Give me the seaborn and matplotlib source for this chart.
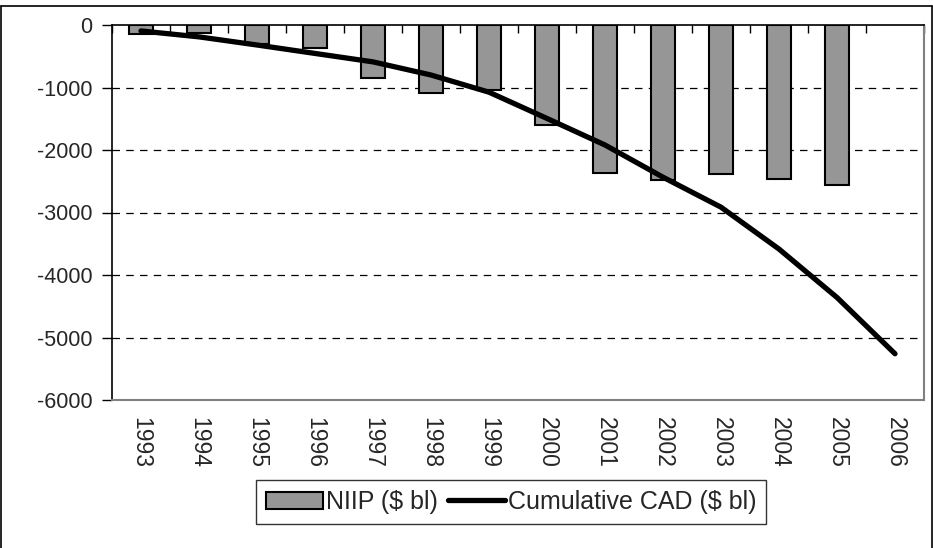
import numpy as np
import pandas as pd
import matplotlib
matplotlib.use("Agg")
import matplotlib.pyplot as plt
import seaborn as sns
from matplotlib.patches import Patch
from matplotlib.lines import Line2D

years = ["1993", "1994", "1995", "1996", "1997", "1998", "1999",
         "2000", "2001", "2002", "2003", "2004", "2005", "2006"]
niip = [-150, -135, -300, -375, -845, -1090, -1045,
        -1605, -2365, -2480, -2390, -2470, -2565, np.nan]
cum_cad = [-95, -190, -320, -455, -590, -800, -1075,
           -1495, -1920, -2435, -2915, -3585, -4360, -5260]
yticks = [0, -1000, -2000, -3000, -4000, -5000, -6000]
ytick_labels = ["0", "-1000", "-2000", "-3000", "-4000", "-5000", "-6000"]

sns.set_theme(style="white")
plt.rcParams['font.family'] = ['Liberation Sans', 'DejaVu Sans']
plt.rcParams['axes.unicode_minus'] = False

fig = plt.figure(figsize=(9.33, 5.48), dpi=100)
ax = fig.add_axes([112/933, 1-400/548, (924-112)/933, (400-25)/548])

df = pd.DataFrame({"year": years, "niip": niip, "cad": cum_cad})
sns.barplot(data=df, x="year", y="niip", color="#969696", width=0.4,
            edgecolor="black", linewidth=1.5, saturation=1, ax=ax, zorder=2)
sns.lineplot(x=np.arange(len(years)), y=df["cad"], color="black", linewidth=3.8,
             ax=ax, zorder=3)

ax.set_ylim(-6000, 0)
ax.set_xlim(-0.5, len(years) - 0.5)
ax.set_yticks(yticks)
ax.set_yticklabels(ytick_labels, fontsize=15.5)
ax.set_xticks(np.arange(len(years)))
ax.set_xticklabels(years, rotation=270, fontsize=16.5)
ax.set_xlabel("")
ax.set_ylabel("")

for v in yticks[1:-1]:
    ax.axhline(v, color="black", linestyle=(0, (6, 5)), linewidth=0.9, zorder=1)

ax.tick_params(axis="x", which="major", length=0, pad=12)
ax.tick_params(axis="y", which="major", left=True, direction="out", length=7,
               width=1, color="black", pad=7)
ax.set_xticks(np.arange(-0.5, len(years), 1.0), minor=True)
ax.tick_params(axis="x", which="minor", top=True, bottom=False, direction="in",
               length=6, width=1, color="black")

ax.spines["left"].set_color("black")
ax.spines["top"].set_color("black")
ax.spines["left"].set_linewidth(1.2)
ax.spines["top"].set_linewidth(1.2)
ax.spines["right"].set_color("#808080")
ax.spines["bottom"].set_color("#808080")
ax.spines["right"].set_linewidth(1.5)
ax.spines["bottom"].set_linewidth(1.5)

handles = [Patch(facecolor="#969696", edgecolor="black", linewidth=1.5),
           Line2D([0], [0], color="black", linewidth=3.8)]
leg = fig.legend(handles, ["NIIP ($ bl)", "Cumulative CAD ($ bl)"],
                 loc="center", bbox_to_anchor=(511/933, 1-502/548), ncol=2,
                 fontsize=18, frameon=True, fancybox=False, handlelength=2.3,
                 handletextpad=0.1, columnspacing=0.4, borderpad=0.4,
                 borderaxespad=0)
leg.get_frame().set_edgecolor("black")
leg.get_frame().set_linewidth(1.0)

# outer chart frame
fig.add_artist(Line2D([0.001, 0.999], [1-5.5/548, 1-5.5/548], color="black",
                      linewidth=1.2, transform=fig.transFigure))
fig.add_artist(Line2D([0.001, 0.001], [0, 1-5.5/548], color="black",
                      linewidth=1.2, transform=fig.transFigure))
fig.add_artist(Line2D([0.999, 0.999], [0, 1-5.5/548], color="black",
                      linewidth=1.2, transform=fig.transFigure))

fig.savefig("out.png", dpi=100)
